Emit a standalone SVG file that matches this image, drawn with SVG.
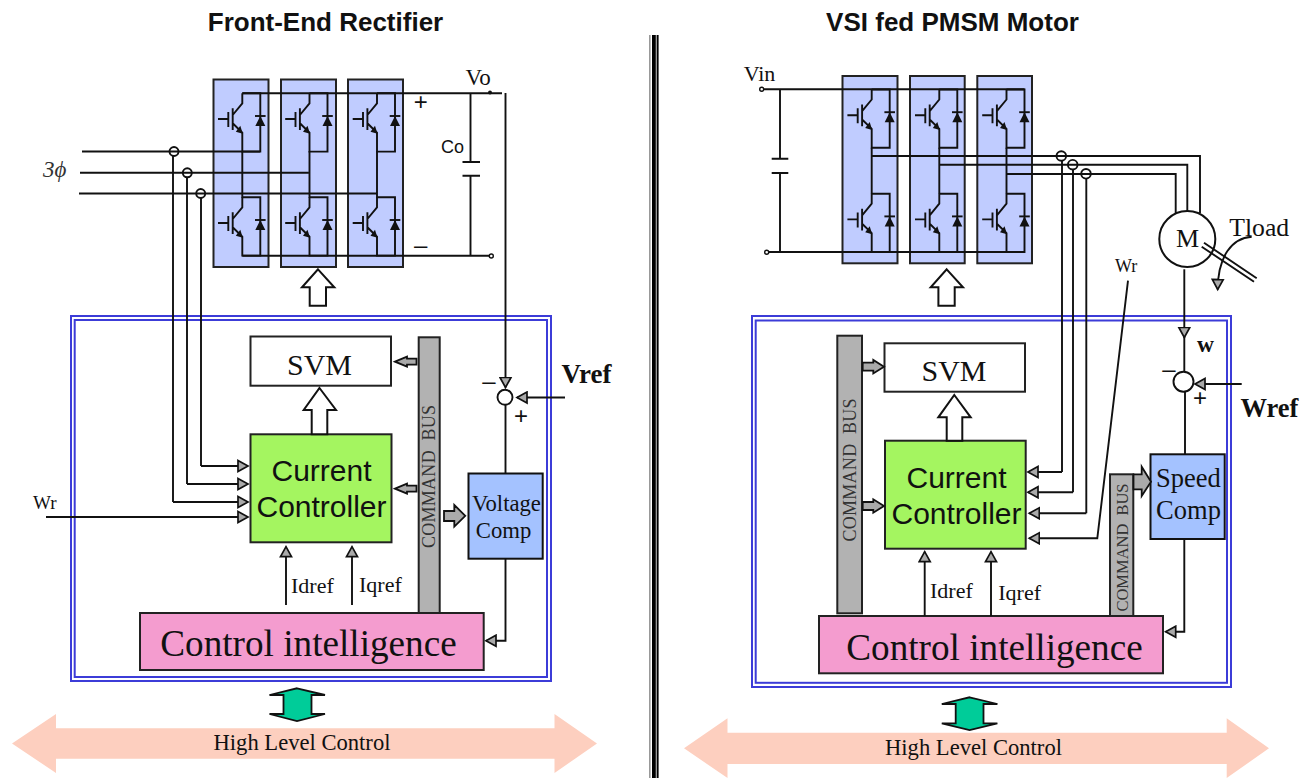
<svg xmlns="http://www.w3.org/2000/svg" xmlns:xlink="http://www.w3.org/1999/xlink" width="1312" height="778" viewBox="0 0 1312 778">
<style>
text{fill:#111}
.ti{font-family:"Liberation Sans",Arial,sans-serif;font-weight:bold;font-size:26px;text-anchor:middle}
.s{font-family:"Liberation Serif","Times New Roman",serif}
.a{font-family:"Liberation Sans",Arial,sans-serif}
.m{text-anchor:middle}
.b{font-weight:bold}
.bt{fill:#333;white-space:pre}
.ln{fill:none;stroke:#111;stroke-width:1.9}
.box{stroke:#222;stroke-width:2}
.mod{fill:#c0ccff;stroke:#222;stroke-width:2}
.bus{fill:#b2b2b2;stroke:#222;stroke-width:2}
.dbl{fill:none;stroke:#3c3cd8;stroke-width:2}
.cmp{fill:#a4c2ff;stroke:#111;stroke-width:2}
.cc{fill:#a4f560;stroke:#222;stroke-width:2}
.ci{fill:#f49ccf;stroke:#222;stroke-width:2}
.ba{fill:#aaa;stroke:#111;stroke-width:1.8}
.wa{fill:#fff;stroke:#111;stroke-width:2}
.ga{fill:#00cc99;stroke:#111;stroke-width:1.8}
.pa{fill:#fdcfbf}
.ring{fill:none;stroke:#111;stroke-width:1.9}
.sum{fill:#fff;stroke:#111;stroke-width:1.9}
.ag{marker-end:url(#h)}
</style>
<defs>
<marker id="h" markerUnits="userSpaceOnUse" markerWidth="14" markerHeight="14" refX="11" refY="7" orient="auto"><path d="M1,1.5 L11,7 L1,12.5 Z" fill="#aaa" stroke="#111" stroke-width="1.7"/></marker>
<g id="sw">
<path class="ln" d="M-24.3,25.7H-14M-14,18.7V33.7M-9.6,15V36.7M0,0V10L-9.6,21.7M-9.6,30L0,39.4V58.3H18V0H0"/>
<path d="M0.5,40.5L-6.5,38.5L-2,32.5Z" fill="#111"/>
<path d="M18,22.7L23,32.7H13Z" fill="#111"/>
<path class="ln" d="M12.7,22.7H23.3"/>
</g>
</defs>

<text id="title-left" class="ti" x="325.5" y="31">Front-End Rectifier</text>
<text id="title-right" class="ti" x="952.5" y="31">VSI fed PMSM Motor</text>

<g id="divider"><rect x="649" y="35" width="1.6" height="743" fill="#999"/><rect x="652" y="35" width="3.8" height="743" fill="#000"/><rect x="656.6" y="35" width="2" height="743" fill="#000"/></g>

<!-- LEFT -->
<g id="l-module-1"><rect class="mod" x="213.5" y="79.5" width="55" height="187.5"/></g>
<g id="l-module-2"><rect class="mod" x="281" y="79.5" width="55" height="187.5"/></g>
<g id="l-module-3"><rect class="mod" x="348" y="79.5" width="55" height="187.5"/></g>
<g id="l-control-box"><rect class="dbl" x="71" y="316" width="480" height="365"/><rect class="dbl" x="74.7" y="320" width="472.3" height="357"/></g>
<g id="l-svm"><rect class="box" x="250.5" y="336.5" width="140.5" height="49.2" fill="#fff"/><text class="s m" x="319.5" y="375" font-size="30">SVM</text></g>
<g id="l-current"><rect class="cc" x="250.5" y="434.3" width="141" height="108"/><text class="a m" x="321.5" y="481" font-size="30">Current</text><text class="a m" x="321.5" y="517" font-size="30">Controller</text></g>
<g id="l-bus"><rect class="bus" x="418.7" y="337.3" width="21" height="276"/><text class="s m bt" transform="translate(435,476.5) rotate(-90)" font-size="18" textLength="143">COMMAND  BUS</text></g>
<g id="l-voltage"><rect class="cmp" x="468.5" y="473.5" width="74.2" height="85.2"/><text class="s m" x="506.5" y="511" font-size="22.7">Voltage</text><text class="s m" x="503.5" y="538.3" font-size="22.7">Comp</text></g>
<g id="l-intelligence"><rect class="ci" x="140" y="613" width="343.7" height="57"/><text class="s m" x="308.5" y="656" font-size="37.2">Control intelligence</text></g>
<g id="l-high"><path class="pa" d="M12,743.5L56,714V728.3H554.5V714L597,743.5L554.5,773V758.7H56V773Z"/><text class="s m" x="302" y="750" font-size="22.6">High Level Control</text></g>
<g id="l-green"><path class="ga" d="M297,688.3L325,695H311.5V714H325L297,721L269.5,714H283.5V695H269.5Z"/></g>
<g id="l-up"><path class="wa" d="M318,269.3L334.3,287.3H326V305.7H309.7V287.3H302Z"/></g>
<g id="l-svm-up"><path class="wa" d="M319.5,388L336,410H327.3V434.3H311.7V410H303.7Z"/></g>

<g id="connectors-left">
<use xlink:href="#sw" href="#sw" x="242.3" y="93.3"/><use xlink:href="#sw" href="#sw" x="309.5" y="93.3"/><use xlink:href="#sw" href="#sw" x="377" y="93.3"/>
<use xlink:href="#sw" href="#sw" x="242.3" y="197.3"/><use xlink:href="#sw" href="#sw" x="309.5" y="197.3"/><use xlink:href="#sw" href="#sw" x="377" y="197.3"/>
<path class="ln" d="M242.3,93.3H502M242.3,151V198M309.5,151V198M377,151V198M242.3,255.7H491M82,151.5H260M80,172.7H308.5M79,193.5H377M470.5,93.3V162M462.5,162H480M462.5,175.8H480M470.5,175.8V255.7"/>
<path class="ln" d="M173,156V502M187,177.5V484M201,198V466"/>
<circle class="ring" cx="174" cy="151.5" r="4.5"/><circle class="ring" cx="187.3" cy="172.8" r="4.5"/><circle class="ring" cx="200.7" cy="193.5" r="4.5"/>
<circle cx="490" cy="92.5" r="2" fill="#111"/><circle cx="491.3" cy="256" r="2" fill="#fff" stroke="#111" stroke-width="1.4"/>
<path class="ln ag" d="M201,466H248"/><path class="ln ag" d="M187,484H248"/><path class="ln ag" d="M173,502H248"/><path class="ln ag" d="M46,517H248"/>
<path class="ln ag" d="M286,605V546.7"/><path class="ln ag" d="M352,605V546.7"/>
<path class="ln ag" d="M505.5,93V387.5"/><path class="ln ag" d="M565,397.5H517"/>
<circle class="sum" cx="505" cy="397.3" r="7.5"/>
<path class="ln" d="M505.5,405V473.5"/>
<path class="ln ag" d="M505.5,558.7V640.7H486"/>
<path class="ba" d="M395,361.7L407,356.7V358.7H416.5V364.7H407V366.7Z"/>
<path class="ba" d="M395,488.7L407,483.7V485.7H416.5V491.7H407V493.7Z"/>
<path class="ba" d="M465.3,515.8L454.3,505V511H444V521H454.3V526.7Z"/>
</g>

<text id="l-3phi" class="s" x="43" y="177" font-size="23" font-style="italic" style="fill:#333">3ϕ</text>
<text id="l-vo" class="s" x="465.5" y="85" font-size="23">Vo</text>
<text id="l-co" class="a" x="441" y="153" font-size="18">Co</text>
<text id="l-plus" class="a m" x="420.7" y="109.7" font-size="24">+</text>
<text id="l-minus" class="a m" x="420.7" y="253.2" font-size="24">–</text>
<text id="l-wr" class="s" x="33" y="509" font-size="19">Wr</text>
<text id="l-idref" class="s" x="291" y="593" font-size="22">Idref</text>
<text id="l-iqref" class="s" x="359" y="591.7" font-size="22">Iqref</text>
<text id="l-vref" class="s b" x="561.5" y="383.3" font-size="27">Vref</text>
<text id="l-m2" class="a m" x="489" y="389.2" font-size="24">–</text>
<text id="l-p2" class="a m" x="521" y="424" font-size="24">+</text>

<!-- RIGHT -->
<g id="r-module-1"><rect class="mod" x="842.5" y="76" width="55" height="187.3"/></g>
<g id="r-module-2"><rect class="mod" x="910" y="76" width="54.7" height="187.3"/></g>
<g id="r-module-3"><rect class="mod" x="977.3" y="76" width="54.7" height="187.3"/></g>
<g id="r-control-box"><rect class="dbl" x="752" y="316" width="479" height="371"/><rect class="dbl" x="755.7" y="320.5" width="471.3" height="362.3"/></g>
<g id="r-svm"><rect class="box" x="884.5" y="343.3" width="140.5" height="48.4" fill="#fff"/><text class="s m" x="954" y="381" font-size="30">SVM</text></g>
<g id="r-current"><rect class="cc" x="885" y="440.7" width="140.7" height="108"/><text class="a m" x="956.5" y="487.5" font-size="30">Current</text><text class="a m" x="956.5" y="523.5" font-size="30">Controller</text></g>
<g id="r-bus-1"><rect class="bus" x="837.3" y="335.7" width="24.7" height="277.6"/><text class="s m bt" transform="translate(855.5,470) rotate(-90)" font-size="18" textLength="143">COMMAND  BUS</text></g>
<g id="r-bus-2"><rect class="bus" x="1110" y="474.3" width="23.3" height="141.7"/><text class="s m bt" transform="translate(1128,547.5) rotate(-90)" font-size="16.5" textLength="128">COMMAND  BUS</text></g>
<g id="r-speed"><rect class="cmp" x="1150.5" y="454.3" width="74.2" height="84.7"/><text class="s m" x="1188.5" y="486.7" font-size="26.5">Speed</text><text class="s m" x="1188.5" y="518.5" font-size="26.5">Comp</text></g>
<g id="r-intelligence"><rect class="ci" x="819" y="616" width="344" height="57.3"/><text class="s m" x="994.5" y="660" font-size="37.2">Control intelligence</text></g>
<g id="r-high"><path class="pa" d="M684,748.3L727.5,718.3V732.7H1226.7V718.3L1269,748.3L1226.7,778V764H727.5V778Z"/><text class="s m" x="973.5" y="755" font-size="22.6">High Level Control</text></g>
<g id="r-green"><path class="ga" d="M969.6,697.3L997.4,704H983.5V723.3H997.4L969.6,730L941.8,723.3H955.7V704H941.8Z"/></g>
<g id="r-up"><path class="wa" d="M946.7,269.3L963,287.3H954.7V305.7H938.4V287.3H930.7Z"/></g>
<g id="r-svm-up"><path class="wa" d="M954.3,395L970.7,417.3H962.3V440.7H946.7V417.3H938.3Z"/></g>
<g id="r-motor"><circle cx="1187.3" cy="239" r="28" fill="#fff" stroke="#111" stroke-width="2"/><text class="s m" x="1187.5" y="246.7" font-size="26">M</text></g>

<g id="connectors-right">
<use xlink:href="#sw" href="#sw" x="871.7" y="89.5"/><use xlink:href="#sw" href="#sw" x="939.3" y="89.5"/><use xlink:href="#sw" href="#sw" x="1006.5" y="89.5"/>
<use xlink:href="#sw" href="#sw" x="871.7" y="193.7"/><use xlink:href="#sw" href="#sw" x="939.3" y="193.7"/><use xlink:href="#sw" href="#sw" x="1006.5" y="193.7"/>
<path class="ln" d="M763.5,89.3H1024.5M871.7,147.8V194M939.3,147.8V194M1006.5,147.8V194M768.5,252H1024.5M780,89.3V158.7M771.7,158.7H788.3M771.7,173H788.3M780,173V252"/>
<path class="ln" d="M871.7,156H1200V213M939.3,164.7H1187.3V211M1006.5,174H1175.7V213"/>
<path class="ln" d="M1062,161V472M1073,169.7V492.3M1086.3,178.7V513.3"/>
<circle class="ring" cx="1061.3" cy="156" r="4.8"/><circle class="ring" cx="1072.7" cy="164.7" r="4.8"/><circle class="ring" cx="1086" cy="173.8" r="4.8"/>
<circle cx="761.7" cy="89.3" r="2" fill="#fff" stroke="#111" stroke-width="1.4"/><circle cx="766.7" cy="252.2" r="2" fill="#fff" stroke="#111" stroke-width="1.4"/>
<path class="ln ag" d="M1062,472H1028"/><path class="ln ag" d="M1073,492.3H1028"/><path class="ln ag" d="M1086.3,513.3H1029.3"/><path class="ln ag" d="M1128,280.7L1097.3,538.3H1029.3"/>
<path class="ln ag" d="M924.7,616V551.7"/><path class="ln ag" d="M991,616V551.7"/>
<path class="ln" d="M1204,242.7L1256.7,278.3M1201.7,246.7L1254,281.7"/>
<path class="ln ag" d="M1251.7,236.7C1232,238 1218,256 1217.7,289.5"/>
<path class="ln ag" d="M1184.3,269.3V337.5"/><path class="ln" d="M1184.3,337V372"/>
<path class="ln ag" d="M1241.7,384H1195"/>
<circle class="sum" cx="1183.5" cy="381.7" r="10"/>
<path class="ln" d="M1185,391.7V454.3"/>
<path class="ln ag" d="M1184.3,539V631.7H1165.7"/>
<path class="ba" d="M884,366.7L873.3,360V362.7H862.7V370.7H873.3V373.4Z"/>
<path class="ba" d="M884,506L873.3,499.3V502H862.7V510H873.3V512.7Z"/>
<path class="ba" d="M1151,481.7L1141.7,466.7V474.3H1133.5V489.3H1141.7V496Z"/>
</g>

<text id="r-vin" class="s" x="743.7" y="80.7" font-size="22">Vin</text>
<text id="r-wr" class="s" x="1115" y="271.7" font-size="18">Wr</text>
<text id="r-tload" class="s" x="1229.3" y="235.7" font-size="25.7">Tload</text>
<text id="r-w" class="s b" x="1197" y="351.7" font-size="23.5">w</text>
<text id="r-m2" class="a m" x="1169" y="377.2" font-size="24">–</text>
<text id="r-p2" class="a m" x="1200" y="406.3" font-size="24">+</text>
<text id="r-wref" class="s b" x="1240.5" y="416.7" font-size="26.5">Wref</text>
<text id="r-idref" class="s" x="930" y="598.3" font-size="22">Idref</text>
<text id="r-iqref" class="s" x="998.3" y="600" font-size="22">Iqref</text>
</svg>
